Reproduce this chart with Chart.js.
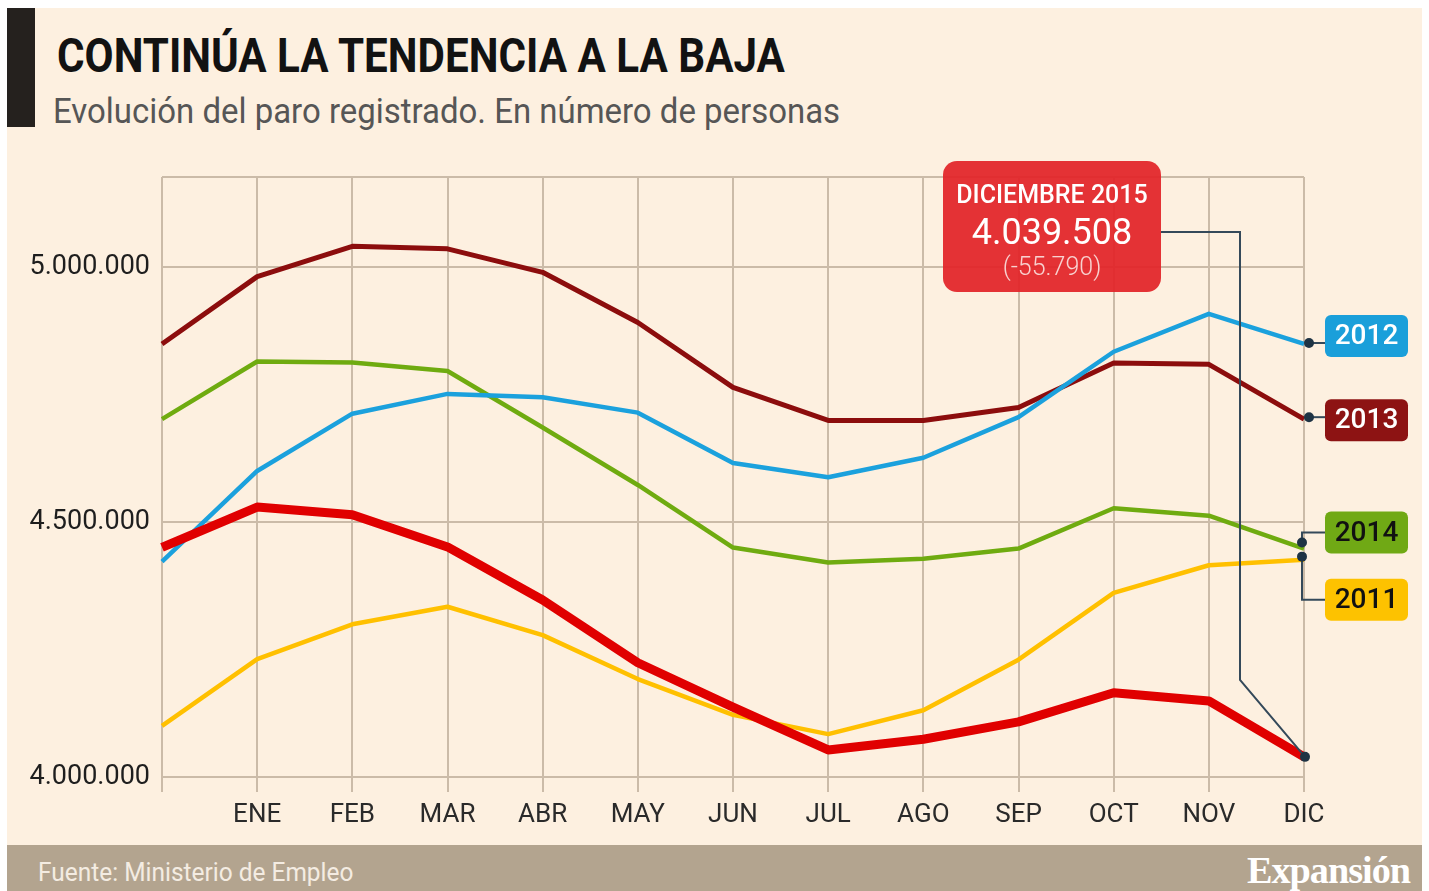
<!DOCTYPE html>
<html lang="es">
<head>
    <meta charset="UTF-8">
    <title>Continúa la tendencia a la baja</title>
    <script src="https://cdn.jsdelivr.net/npm/chart.js"></script>
    <style>
        body {margin:0; width:1429px; height:891px; overflow:hidden; background:#fff; font-family:'Roboto',sans-serif; position:relative;}
        #panel {position:absolute; left:7px; top:8px; width:1415px; height:837px; background:#fdf0e0;}
        #bar {position:absolute; left:7px; top:8px; width:28px; height:119px; background:#25211e;}
        .txt {position:absolute; margin:0; line-height:1; white-space:nowrap; transform-origin:0 0;}
        #title {left:57px; top:32px; font-size:48px; font-weight:700; color:#121212;}
        #subtitle {left:53px; top:94px; font-size:35px; font-weight:400; color:#565656;}
        #footer {position:absolute; left:7px; top:845px; width:1415px; height:46px; background:#b3a48f;}
        #source {left:38px; top:859px; font-size:26px; color:#f4ece2;}
        #brand {left:1247px; top:851px; font-size:38px; font-weight:700; color:#fff; font-family:'Liberation Serif',serif; letter-spacing:-1px;}
        canvas {position:absolute; left:0; top:0;}
    </style>
</head>
<body>
    <div id="panel"></div>
    <div id="bar"></div>
    <h1 class="txt" id="title">CONTINÚA LA TENDENCIA A LA BAJA</h1>
    <p class="txt" id="subtitle">Evolución del paro registrado. En número de personas</p>
    <div id="footer"></div>
    <p class="txt" id="source">Fuente: Ministerio de Empleo</p>
    <p class="txt" id="brand">Expansión</p>
    <canvas id="chart" width="1429" height="891"></canvas>
    <script>
    // months (first point = December of the previous year)
    const labels = ['', 'ENE', 'FEB', 'MAR', 'ABR', 'MAY', 'JUN', 'JUL', 'AGO', 'SEP', 'OCT', 'NOV', 'DIC'];
    const paro2011 = [4100073, 4231003, 4299263, 4333669, 4278000, 4192000, 4121801, 4084000, 4130927, 4230000, 4360926, 4415000, 4426000];
    const paro2012 = [4422359, 4599829, 4712098, 4750867, 4744235, 4714122, 4615269, 4587455, 4625634, 4705279, 4833521, 4907817, 4848723];
    const paro2013 = [4848723, 4980778, 5040222, 5035243, 4989193, 4890928, 4763680, 4698814, 4698783, 4724355, 4811383, 4808908, 4701338];
    const paro2014 = [4701338, 4814435, 4812486, 4795866, 4684986, 4572385, 4449701, 4420409, 4427930, 4447650, 4526804, 4512153, 4447711];
    const paro2015 = [4450000, 4529000, 4514000, 4451000, 4347000, 4224000, 4137000, 4053000, 4074000, 4108000, 4165000, 4149000, 4039508];
    const yTicks = [4000000, 4500000, 5000000];
    const yTop = 5176000;
    const calloutTitle = 'DICIEMBRE 2015';
    const calloutChange = -55790;

    const fmt = v => Math.round(v).toString().replace(/\B(?=(\d{3})+(?!\d))/g, '.');

    // squeeze html text a bit, the original font is a condensed one
    function fitWidth(id, w) {
        const el = document.getElementById(id);
        el.style.transform = `scaleX(${w / el.offsetWidth})`;
    }
    fitWidth('title', 728);
    fitWidth('subtitle', 787);
    fitWidth('source', 315);
    fitWidth('brand', 163);

    const GRID = '#cbbba8';
    const DOT = '#1e3344';
    const LEADER = '#34495a';

    function roundRect(ctx, x, y, w, h, r) {
        ctx.beginPath();
        ctx.moveTo(x + r, y);
        ctx.arcTo(x + w, y, x + w, y + h, r);
        ctx.arcTo(x + w, y + h, x, y + h, r);
        ctx.arcTo(x, y + h, x, y, r);
        ctx.arcTo(x, y, x + w, y, r);
        ctx.closePath();
    }

    function dot(ctx, x, y) {
        ctx.beginPath();
        ctx.arc(x, y, 5, 0, Math.PI * 2);
        ctx.fillStyle = DOT;
        ctx.fill();
    }

    const annotations = {
        id: 'annotations',
        afterDatasetsDraw(chart) {
            const {ctx, chartArea: a, scales: {x, y}} = chart;
            const last = labels.length - 1;
            const xEnd = x.getPixelForValue(last);
            ctx.save();

            // year tags on the right
            const tags = [
                {text: '2012', data: paro2012, bg: '#1a9fda', fg: '#fff', dx: 5, dy: -1, shift: -7},
                {text: '2013', data: paro2013, bg: '#8d1313', fg: '#fff', dx: 5, dy: -2, shift: 3},
                {text: '2014', data: paro2014, bg: '#70a915', fg: '#111', dx: -2, dy: -6, shift: -10},
                {text: '2011', data: paro2011, bg: '#fdc200', fg: '#111', dx: -2, dy: -3, shift: 43}
            ];
            tags.forEach(t => {
                const py = y.getPixelForValue(t.data[last]) + t.dy;
                const px = xEnd + t.dx;
                const tl = xEnd + 21, tw = 83, th = 42;
                const cy = py + t.shift;
                ctx.strokeStyle = LEADER;
                ctx.lineWidth = 2;
                ctx.beginPath();
                ctx.moveTo(px, py);
                if (Math.abs(cy - py) > 9) {
                    ctx.lineTo(px, cy);
                    ctx.lineTo(tl, cy);
                } else {
                    ctx.lineTo(tl, py);
                }
                ctx.stroke();
                dot(ctx, px, py);
                roundRect(ctx, tl, cy - th / 2, tw, th, 6);
                ctx.fillStyle = t.bg;
                ctx.fill();
                ctx.fillStyle = t.fg;
                ctx.font = '500 28px Roboto';
                ctx.textAlign = 'center';
                ctx.textBaseline = 'middle';
                ctx.fillText(t.text, tl + tw / 2, cy + 1);
            });

            // callout for the last value of 2015
            const decY = y.getPixelForValue(paro2015[last]);
            const bx = xEnd - 361, by = a.top - 16, bw = 218, bh = 131;
            ctx.strokeStyle = LEADER;
            ctx.lineWidth = 2;
            ctx.beginPath();
            ctx.moveTo(bx + bw, by + 71);
            ctx.lineTo(xEnd - 64, by + 71);
            ctx.lineTo(xEnd - 64, a.bottom - 97);
            ctx.lineTo(xEnd + 1, decY);
            ctx.stroke();
            dot(ctx, xEnd + 1, decY);

            roundRect(ctx, bx, by, bw, bh, 14);
            ctx.fillStyle = 'rgba(226,36,40,0.93)';
            ctx.fill();
            ctx.textAlign = 'center';
            ctx.textBaseline = 'middle';
            ctx.fillStyle = '#fff';
            ctx.font = '500 25px Roboto';
            ctx.fillText(calloutTitle, bx + bw / 2, by + 36);
            ctx.font = '400 36px Roboto';
            ctx.fillText(fmt(paro2015[last]), bx + bw / 2, by + 74);
            ctx.fillStyle = '#f8d2d0';
            ctx.font = '300 25px Roboto';
            ctx.fillText('(-' + fmt(-calloutChange) + ')', bx + bw / 2, by + 108);
            ctx.restore();
        }
    };

    const line = (label, data, color, width, order) => ({
        label, data, order,
        borderColor: color,
        borderWidth: width,
        pointRadius: 0,
        tension: 0,
        borderJoinStyle: 'round',
        fill: false
    });

    new Chart(document.getElementById('chart'), {
        type: 'line',
        data: {
            labels: labels,
            datasets: [
                line('2015', paro2015, '#e00000', 9, 0),
                line('2012', paro2012, '#1ba1dd', 4.5, 1),
                line('2014', paro2014, '#6fab10', 4.5, 2),
                line('2011', paro2011, '#ffc000', 4.5, 3),
                line('2013', paro2013, '#8c0d0d', 5, 4)
            ]
        },
        options: {
            responsive: false,
            animation: false,
            devicePixelRatio: 1,
            layout: {padding: {left: 0, top: 177, right: 125, bottom: 46}},
            plugins: {legend: {display: false}, tooltip: {enabled: false}},
            scales: {
                x: {
                    type: 'category',
                    afterFit: s => { s.height = 68; },
                    border: {display: false},
                    grid: {color: GRID, lineWidth: 2, tickLength: 15, tickColor: GRID},
                    ticks: {color: '#2a2a2a', padding: 8, maxRotation: 0, autoSkip: false, font: {family: 'Roboto', size: 26}}
                },
                y: {
                    min: yTicks[0],
                    max: yTop,
                    afterFit: s => { s.width = 162; },
                    afterBuildTicks: s => { s.ticks = yTicks.concat([yTop]).map(v => ({value: v})); },
                    border: {display: false},
                    grid: {color: GRID, lineWidth: 2, drawTicks: false},
                    ticks: {
                        color: '#1e1e1e', padding: 12,
                        font: {family: 'Roboto', size: 27},
                        callback: v => yTicks.includes(v) ? fmt(v) : ''
                    }
                }
            }
        },
        plugins: [annotations]
    });
    </script>
</body>
</html>
